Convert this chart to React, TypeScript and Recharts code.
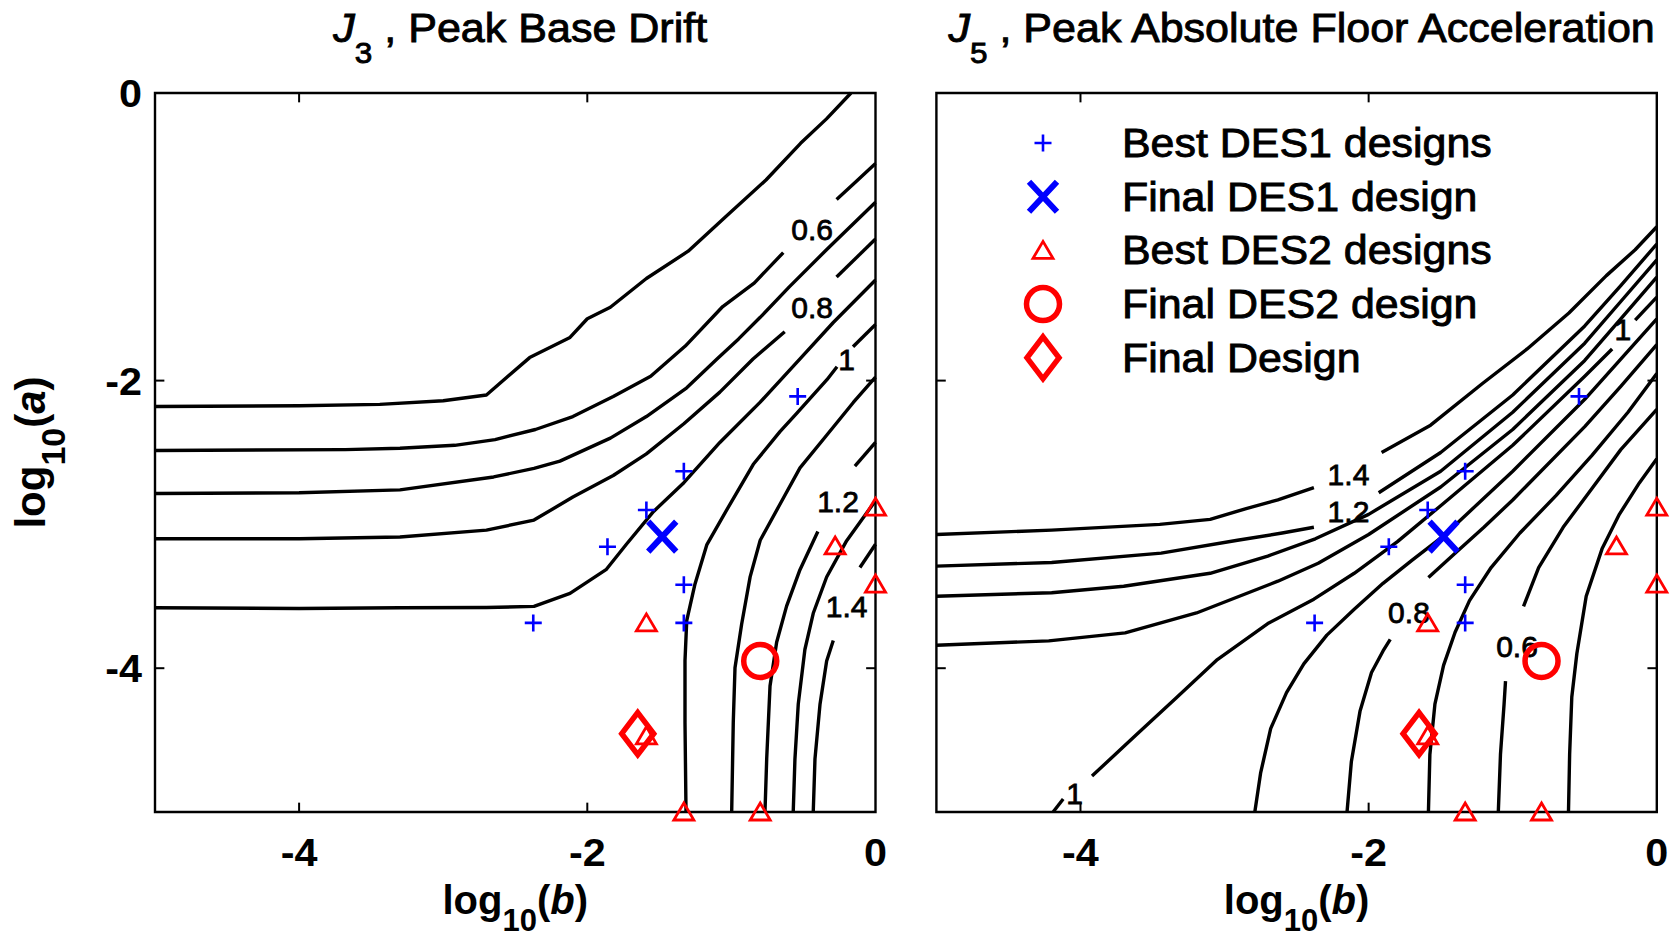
import React from 'react';
import {
  ComposedChart,
  Line,
  Scatter,
  XAxis,
  YAxis,
  Legend,
  ReferenceArea,
  ReferenceLine,
  Label,
} from 'recharts';

type Pt = [number, number];

const FONT = "'Liberation Sans', Arial, Helvetica, sans-serif";
const BLUE = '#0000ff';
const RED = '#ff0000';

// Axes: log10(b) horizontally, log10(a) vertically
const domain: [number, number] = [-5, 0];
const xTicks = [-4, -2, 0];
const yTicks = [-4, -2, 0];
const boxTicks = [-4, -2];
const tickLen = 0.065;

// ---------- J3, peak base drift: contour pieces [log10(b), log10(a)] ----------
const driftC1: Pt[] = [[-0.17, 0], [-0.34, -0.18], [-0.52, -0.35], [-0.76, -0.605], [-1.04, -0.86], [-1.3, -1.1], [-1.59, -1.29], [-1.84, -1.49], [-2.0, -1.57], [-2.12, -1.7], [-2.4, -1.84], [-2.7, -2.1], [-3.0, -2.14], [-3.44, -2.165], [-4.0, -2.175], [-5, -2.18]];
const driftC2a: Pt[] = [[0, -0.49], [-0.14, -0.62], [-0.27, -0.74]];
const driftC2b: Pt[] = [[-0.64, -1.11], [-0.84, -1.32], [-1.06, -1.485], [-1.32, -1.76], [-1.56, -1.97], [-1.82, -2.11], [-2.1, -2.25], [-2.36, -2.34], [-2.64, -2.41], [-2.92, -2.45], [-3.3, -2.47], [-3.68, -2.48], [-5, -2.486]];
const driftC3: Pt[] = [[0, -0.76], [-0.34, -1.09], [-0.6, -1.35], [-0.8, -1.56], [-0.95, -1.71], [-1.1, -1.85], [-1.31, -2.05], [-1.59, -2.25], [-1.84, -2.4], [-2.19, -2.56], [-2.37, -2.61], [-2.65, -2.67], [-3.3, -2.76], [-4.0, -2.78], [-5, -2.785]];
const driftC4a: Pt[] = [[0, -1.015], [-0.27, -1.28]];
const driftC4b: Pt[] = [[-0.63, -1.66], [-0.85, -1.85], [-1.08, -2.08], [-1.33, -2.3], [-1.59, -2.51], [-1.82, -2.66], [-2.1, -2.81], [-2.37, -2.97], [-2.7, -3.04], [-3.3, -3.088], [-4.0, -3.1], [-5, -3.1]];
const driftC5: Pt[] = [[0, -1.3], [-0.293, -1.596], [-0.524, -1.849], [-0.8, -2.15], [-1.08, -2.43], [-1.33, -2.71], [-1.54, -2.91], [-1.73, -3.14], [-1.87, -3.315], [-2.12, -3.48], [-2.37, -3.57], [-2.7, -3.578], [-3.3, -3.58], [-4.0, -3.585], [-5, -3.58]];
const driftC6a: Pt[] = [[0, -1.61], [-0.156, -1.765]];
const driftC6b: Pt[] = [[-0.267, -1.904], [-0.337, -1.994], [-0.547, -2.228], [-0.663, -2.355], [-0.848, -2.582], [-1.01, -2.86], [-1.17, -3.14], [-1.253, -3.416], [-1.31, -3.67], [-1.322, -3.947], [-1.322, -4.38], [-1.315, -5.0]];
const driftC7: Pt[] = [[0, -1.976], [-0.154, -2.152], [-0.339, -2.38], [-0.524, -2.607], [-0.663, -2.86], [-0.8, -3.11], [-0.87, -3.365], [-0.929, -3.694], [-0.975, -3.997], [-0.987, -4.376], [-0.998, -5.0]];
const driftC8a: Pt[] = [[0, -2.43], [-0.143, -2.595]];
const driftC8b: Pt[] = [[-0.4, -3.05], [-0.524, -3.315], [-0.617, -3.568], [-0.686, -3.82], [-0.732, -4.124], [-0.755, -4.63], [-0.767, -5.0]];
const driftC9: Pt[] = [[0, -2.835], [-0.2, -3.113], [-0.339, -3.366], [-0.432, -3.618], [-0.49, -3.87], [-0.536, -4.25], [-0.559, -4.63], [-0.571, -5.0]];
const driftC10a: Pt[] = [[0, -3.138], [-0.108, -3.3]];
const driftC10b: Pt[] = [[-0.293, -3.808], [-0.339, -3.95], [-0.385, -4.25], [-0.42, -4.63], [-0.432, -5.0]];

const driftLabels = [
  { x: -0.44, y: -0.95, level: 0.6 },
  { x: -0.44, y: -1.49, level: 0.8 },
  { x: -0.2, y: -1.85, level: 1 },
  { x: -0.26, y: -2.84, level: 1.2 },
  { x: -0.2, y: -3.57, level: 1.4 },
];

// ---------- J5, peak absolute floor acceleration: contour pieces ----------
const accelC1a: Pt[] = [[-5, -3.07], [-4.2, -3.04], [-3.45, -3.0], [-3.1, -2.965], [-2.85, -2.89], [-2.63, -2.83], [-2.38, -2.745]];
const accelC1b: Pt[] = [[-1.91, -2.5], [-1.57, -2.31], [-1.21, -2.02], [-0.9, -1.78], [-0.61, -1.53], [-0.35, -1.27], [-0.15, -1.09], [0, -0.93]];
const accelC2a: Pt[] = [[-5, -3.29], [-4.2, -3.265], [-3.44, -3.2], [-2.91, -3.11], [-2.6, -3.06], [-2.38, -3.02]];
const accelC2b: Pt[] = [[-1.93, -2.78], [-1.5, -2.5], [-1.0, -2.1], [-0.5, -1.62], [-0.25, -1.34], [0, -1.05]];
const accelC3: Pt[] = [[-5, -3.5], [-4.2, -3.475], [-3.7, -3.43], [-3.1, -3.34], [-2.7, -3.22], [-2.37, -3.1], [-2.0, -2.93], [-1.5, -2.63], [-1.0, -2.22], [-0.5, -1.74], [-0.25, -1.45], [0, -1.16]];
const accelC4: Pt[] = [[-5, -3.84], [-4.22, -3.81], [-3.69, -3.754], [-3.195, -3.616], [-2.63, -3.395], [-2.35, -3.27], [-2.0, -3.07], [-1.5, -2.74], [-1.0, -2.34], [-0.5, -1.86], [-0.25, -1.57], [0, -1.28]];
const accelC5a: Pt[] = [[-4.19, -5.0], [-4.12, -4.91]];
const accelC5b: Pt[] = [[-3.92, -4.75], [-3.62, -4.47], [-3.34, -4.21], [-3.05, -3.94], [-2.7, -3.69], [-2.38, -3.52], [-2.1, -3.34], [-1.8, -3.12], [-1.5, -2.87], [-1.0, -2.45], [-0.5, -1.97], [-0.31, -1.78]];
const accelC5c: Pt[] = [[-0.15, -1.58], [0, -1.42]];
const accelC6: Pt[] = [[-2.79, -5.0], [-2.75, -4.73], [-2.68, -4.42], [-2.57, -4.17], [-2.45, -3.97], [-2.29, -3.77], [-2.1, -3.59], [-1.9, -3.41], [-1.7, -3.25], [-1.48, -3.08], [-1.0, -2.63], [-0.5, -2.13], [-0.25, -1.85], [0, -1.57]];
const accelC7a: Pt[] = [[-2.15, -5.0], [-2.12, -4.65], [-2.06, -4.3], [-1.98, -4.03], [-1.9, -3.88], [-1.85, -3.8]];
const accelC7b: Pt[] = [[-1.585, -3.37], [-1.4, -3.2], [-1.2, -3.02], [-1.0, -2.83], [-0.5, -2.32], [-0.25, -2.04], [0, -1.75]];
const accelC8: Pt[] = [[-1.585, -5.0], [-1.575, -4.6], [-1.54, -4.25], [-1.48, -3.98], [-1.4, -3.75], [-1.3, -3.53], [-1.15, -3.3], [-0.95, -3.06], [-0.7, -2.8], [-0.45, -2.52], [-0.2, -2.22], [0, -1.95]];
const accelC9a: Pt[] = [[-1.1, -5.0], [-1.085, -4.6], [-1.06, -4.25], [-1.05, -4.09]];
const accelC9b: Pt[] = [[-0.925, -3.57], [-0.82, -3.3], [-0.65, -3.02], [-0.45, -2.75], [-0.25, -2.48], [0, -2.2]];
const accelC10: Pt[] = [[-0.613, -5.0], [-0.605, -4.6], [-0.59, -4.2], [-0.555, -3.9], [-0.49, -3.5], [-0.38, -3.17], [-0.26, -2.93], [-0.12, -2.71], [0, -2.544]];

const accelLabels = [
  { x: -2.14, y: -2.65, level: 1.4 },
  { x: -2.14, y: -2.905, level: 1.2 },
  { x: -0.235, y: -1.64, level: 1 },
  { x: -1.72, y: -3.61, level: 0.8 },
  { x: -0.97, y: -3.85, level: 0.6 },
  { x: -4.04, y: -4.87, level: 1 },
];

// ---------- Designs [log10(b), log10(a)] ----------
const bestDes1: Pt[] = [[-0.54, -2.11], [-1.33, -2.63], [-1.59, -2.9], [-1.86, -3.155], [-1.33, -3.42], [-1.33, -3.685], [-2.375, -3.685]];
const finalDes1: Pt[] = [[-1.48, -3.085]];
const bestDes2: Pt[] = [[0, -2.88], [-0.28, -3.15], [0, -3.415], [-1.59, -3.685], [-1.33, -5.0], [-0.8, -5.0], [-1.59, -4.47]];
const finalDes2: Pt[] = [[-0.8, -3.95]];
const finalDesign: Pt[] = [[-1.65, -4.455]];

const legendOrder = ['Best DES1 designs', 'Final DES1 design', 'Best DES2 designs', 'Final DES2 design', 'Final Design'];

const driftContours: Pt[][] = [driftC1, driftC2a, driftC2b, driftC3, driftC4a, driftC4b, driftC5, driftC6a, driftC6b, driftC7, driftC8a, driftC8b, driftC9, driftC10a, driftC10b];
const accelContours: Pt[][] = [accelC1a, accelC1b, accelC2a, accelC2b, accelC3, accelC4, accelC5a, accelC5b, accelC5c, accelC6, accelC7a, accelC7b, accelC8, accelC9a, accelC9b, accelC10];

const rows = (pts: Pt[]) => pts.map(([x, y]) => ({ x, y }));

// ---------- marker glyphs ----------
const PlusMark = ({ cx, cy }: any) => (
  <path d={`M${cx - 8.5},${cy}H${cx + 8.5}M${cx},${cy - 8.5}V${cy + 8.5}`} stroke={BLUE} strokeWidth={2.6} fill="none" />
);
const CrossMark = ({ cx, cy }: any) => (
  <path d={`M${cx - 14},${cy - 15}L${cx + 14},${cy + 15}M${cx - 14},${cy + 15}L${cx + 14},${cy - 15}`} stroke={BLUE} strokeWidth={6} fill="none" />
);
const TriangleMark = ({ cx, cy }: any) => (
  <path d={`M${cx},${cy - 9}L${cx + 10},${cy + 8}L${cx - 10},${cy + 8}Z`} stroke={RED} strokeWidth={2.8} fill="none" />
);
const CircleMark = ({ cx, cy }: any) => (
  <circle cx={cx} cy={cy} r={16.5} stroke={RED} strokeWidth={5.5} fill="none" />
);
const DiamondMark = ({ cx, cy }: any) => (
  <path d={`M${cx},${cy - 21}L${cx + 16},${cy}L${cx},${cy + 21}L${cx - 16},${cy}Z`} stroke={RED} strokeWidth={5.5} fill="none" strokeLinejoin="miter" />
);

const markByName: Record<string, (p: any) => React.ReactElement> = {
  'Best DES1 designs': PlusMark,
  'Final DES1 design': CrossMark,
  'Best DES2 designs': TriangleMark,
  'Final DES2 design': CircleMark,
  'Final Design': DiamondMark,
};

const LevelText = (p: any) => (
  <text
    x={p.cx}
    y={p.cy}
    dy="0.36em"
    textAnchor="middle"
    fontFamily={FONT}
    fontSize={30}
    fill="#000"
    stroke="#000"
    strokeWidth={0.8}
  >
    {String(p.payload.level)}
  </text>
);

// ---------- axis text ----------
const XTick = (p: any) => (
  <text
    transform={`translate(${p.x} ${p.y + 54}) scale(1.06 1)`}
    textAnchor="middle"
    fontFamily={FONT}
    fontWeight="bold"
    fontSize={39}
    fill="#000"
  >
    {String(p.payload.value)}
  </text>
);

const YTick = (p: any) => (
  <text
    transform={`translate(${p.x - 13} ${p.y + 14}) scale(1.06 1)`}
    textAnchor="end"
    fontFamily={FONT}
    fontWeight="bold"
    fontSize={39}
    fill="#000"
  >
    {String(p.payload.value)}
  </text>
);

const XLabel = (p: any) => {
  const vb = p.viewBox;
  return (
    <text x={vb.x + vb.width / 2} y={vb.y + 102} textAnchor="middle" fontFamily={FONT} fontWeight="bold" fontSize={40} fill="#000">
      log<tspan fontSize={31} dy={17}>10</tspan>
      <tspan dy={-17}>(</tspan>
      <tspan fontStyle="italic">b</tspan>
      <tspan>)</tspan>
    </text>
  );
};

const YLabel = (p: any) => {
  const vb = p.viewBox;
  const cy = vb.y + vb.height / 2;
  return (
    <text transform={`translate(45 ${cy}) rotate(-90)`} textAnchor="middle" fontFamily={FONT} fontWeight="bold" fontSize={42} fill="#000">
      log<tspan fontSize={34} dy={20}>10</tspan>
      <tspan dy={-20}>(</tspan>
      <tspan fontStyle="italic">a</tspan>
      <tspan>)</tspan>
    </text>
  );
};

const makeTitle = (sub: string, text: string) => (p: any) => {
  const vb = p.viewBox;
  const cx = vb.x + vb.width / 2 + 5;
  return (
    <text
      transform={`translate(${cx} 42) scale(1.05 1)`}
      textAnchor="middle"
      fontFamily={FONT}
      fontSize={41}
      fill="#000"
      stroke="#000"
      strokeWidth={0.9}
    >
      <tspan fontStyle="italic">J</tspan>
      <tspan fontSize={30} dy={21}>{sub}</tspan>
      <tspan dy={-21}>{' , ' + text}</tspan>
    </text>
  );
};

const renderLegend = (props: any) => {
  const present = new Set((props.payload || []).map((e: any) => e.value));
  const items = legendOrder.filter((name) => present.has(name));
  return (
    <svg width={540} height={280} style={{ display: 'block' }}>
      {items.map((name, i) => {
        const cy = 33 + i * 53.7;
        const Mark = markByName[name];
        return (
          <g key={name}>
            <Mark cx={43} cy={cy} />
            <text
              transform={`translate(122 ${cy + 14}) scale(1.06 1)`}
              fontFamily={FONT}
              fontSize={40.5}
              fill="#000"
              stroke="#000"
              strokeWidth={0.9}
            >
              {name}
            </text>
          </g>
        );
      })}
    </svg>
  );
};

type PanelProps = {
  width: number;
  axisWidth: number;
  rightMargin: number;
  contours: Pt[][];
  labels: { x: number; y: number; level: number }[];
  sub: string;
  title: string;
  showYTicks: boolean;
  withLegend: boolean;
};

function Panel({ width, axisWidth, rightMargin, contours, labels, sub, title, showYTicks, withLegend }: PanelProps) {
  return (
    <ComposedChart width={width} height={943} margin={{ top: 0, right: rightMargin, bottom: 0, left: 0 }}>
      <XAxis xAxisId="top" orientation="top" type="number" dataKey="x" domain={domain} height={93} tick={false} axisLine={false} tickLine={false}>
        <Label content={makeTitle(sub, title)} />
      </XAxis>
      <XAxis
        type="number"
        dataKey="x"
        domain={domain}
        ticks={xTicks}
        interval={0}
        height={131}
        axisLine={false}
        tickLine={false}
        tickSize={0}
        tickMargin={0}
        tick={<XTick />}
      >
        <Label content={XLabel} />
      </XAxis>
      <YAxis
        type="number"
        dataKey="y"
        domain={domain}
        ticks={yTicks}
        interval={0}
        width={axisWidth}
        axisLine={false}
        tickLine={false}
        tickSize={0}
        tickMargin={0}
        tick={showYTicks ? <YTick /> : false}
      >
        {showYTicks ? <Label content={YLabel} /> : null}
      </YAxis>

      <ReferenceArea x1={-5} x2={0} y1={-5} y2={0} fill="none" fillOpacity={0} stroke="#000" strokeWidth={2.4} />
      {boxTicks.map((t) => (
        <ReferenceLine key={`b${t}`} segment={[{ x: t, y: -5 }, { x: t, y: -5 + tickLen }]} stroke="#000" strokeWidth={2} />
      ))}
      {boxTicks.map((t) => (
        <ReferenceLine key={`t${t}`} segment={[{ x: t, y: 0 }, { x: t, y: -tickLen }]} stroke="#000" strokeWidth={2} />
      ))}
      {boxTicks.map((t) => (
        <ReferenceLine key={`l${t}`} segment={[{ x: -5, y: t }, { x: -5 + tickLen, y: t }]} stroke="#000" strokeWidth={2} />
      ))}
      {boxTicks.map((t) => (
        <ReferenceLine key={`r${t}`} segment={[{ x: 0, y: t }, { x: -tickLen, y: t }]} stroke="#000" strokeWidth={2} />
      ))}

      {contours.map((seg, i) => (
        <Line
          key={`c${i}`}
          data={rows(seg)}
          dataKey="y"
          type="linear"
          stroke="#000"
          strokeWidth={3.4}
          strokeLinejoin="round"
          strokeLinecap="butt"
          dot={false}
          activeDot={false}
          legendType="none"
          isAnimationActive={false}
        />
      ))}

      <Scatter data={labels} dataKey="y" shape={LevelText} legendType="none" isAnimationActive={false} />

      <Scatter name="Best DES1 designs" data={rows(bestDes1)} dataKey="y" shape={PlusMark} isAnimationActive={false} />
      <Scatter name="Final DES1 design" data={rows(finalDes1)} dataKey="y" shape={CrossMark} isAnimationActive={false} />
      <Scatter name="Best DES2 designs" data={rows(bestDes2)} dataKey="y" shape={TriangleMark} isAnimationActive={false} />
      <Scatter name="Final DES2 design" data={rows(finalDes2)} dataKey="y" shape={CircleMark} isAnimationActive={false} />
      <Scatter name="Final Design" data={rows(finalDesign)} dataKey="y" shape={DiamondMark} isAnimationActive={false} />

      {withLegend ? (
        <Legend
          layout="horizontal"
          align="center"
          verticalAlign="middle"
          content={renderLegend}
          wrapperStyle={{ position: 'absolute', left: 120, top: 110, width: 540, height: 280 }}
        />
      ) : null}
    </ComposedChart>
  );
}

export default function App() {
  return (
    <div style={{ position: 'absolute', left: 0, top: 0, width: 1676, height: 943, background: '#fff', overflow: 'hidden' }}>
      <div style={{ position: 'absolute', left: 0, top: 0 }}>
        <Panel
          width={900}
          axisWidth={155}
          rightMargin={24.5}
          contours={driftContours}
          labels={driftLabels}
          sub="3"
          title="Peak Base Drift"
          showYTicks={true}
          withLegend={false}
        />
      </div>
      <div style={{ position: 'absolute', left: 880, top: 0 }}>
        <Panel
          width={796}
          axisWidth={56.4}
          rightMargin={19.2}
          contours={accelContours}
          labels={accelLabels}
          sub="5"
          title="Peak Absolute Floor Acceleration"
          showYTicks={false}
          withLegend={true}
        />
      </div>
    </div>
  );
}
